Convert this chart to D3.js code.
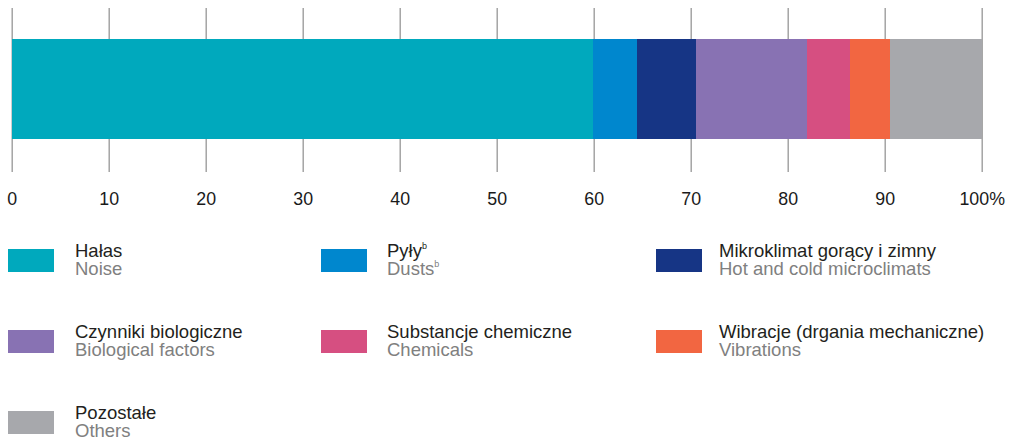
<!DOCTYPE html>
<html><head><meta charset="utf-8">
<script src="https://cdn.jsdelivr.net/npm/d3@7"></script>
<style>
html,body{margin:0;padding:0;background:#fff;}
svg text{font-family:Arial,"Liberation Sans",Helvetica,sans-serif;}
</style></head>
<body>
<svg id="chart" width="1012" height="440"></svg>
<script>
const categoriesPl = ["Hałas","Pyły","Mikroklimat gorący i zimny","Czynniki biologiczne","Substancje chemiczne","Wibracje (drgania mechaniczne)","Pozostałe"];
const categoriesEn = ["Noise","Dusts","Hot and cold microclimats","Biological factors","Chemicals","Vibrations","Others"];
const superscripts = ["","b","","","","",""];
const values = [59.9, 4.6, 6.0, 11.5, 4.4, 4.1, 9.5];
const colors = ["#00a9bd","#0087ce","#163585","#8872b3","#d64f81","#f26641","#a7a8ac"];
const tickValues = [0,10,20,30,40,50,60,70,80,90,100];

const FONT = "Arial, 'Liberation Sans', Helvetica, sans-serif";
const svg = d3.select("#chart");
const x = d3.scaleLinear().domain([0,100]).range([11.7, 981.7]);

// axis with gridlines
const axis = d3.axisBottom(x).tickValues(tickValues).tickSize(164).tickPadding(20)
  .tickFormat(d => d === 100 ? "100%" : String(d));
const ag = svg.append("g").attr("transform","translate(0,8)").call(axis)
  .attr("font-family", FONT);
ag.select(".domain").remove();
ag.selectAll(".tick line").attr("stroke","#9d9d9d").attr("stroke-width",1.4);
ag.selectAll(".tick text").attr("fill","#1a1a1a").attr("font-size","17.8px")
  .attr("font-family", FONT);

// stacked bar
let cum = 0;
const segs = values.map((v,i) => { const s = {start:cum, end:cum+v, color:colors[i]}; cum += v; return s; });
svg.append("g").selectAll("rect").data(segs).join("rect")
  .attr("x", d => x(d.start)).attr("width", d => x(d.end) - x(d.start))
  .attr("y", 39).attr("height", 100)
  .attr("fill", d => d.color).attr("shape-rendering","crispEdges");

// legend
const colSwatchX = [8, 321, 656];
const colTextX = [75, 387, 719];
const rowY = [249, 330, 411];
const lg = svg.append("g").attr("font-family", FONT);
categoriesPl.forEach((name, i) => {
  const c = i % 3, r = Math.floor(i / 3);
  const g = lg.append("g");
  g.append("rect").attr("x", colSwatchX[c]).attr("y", rowY[r]).attr("width", 46).attr("height", 23)
    .attr("fill", colors[i]);
  const t1 = g.append("text").attr("x", colTextX[c]).attr("y", rowY[r] + 7.5)
    .attr("fill", "#231f20").attr("font-size", "18.5px").text(name);
  if (superscripts[i]) t1.append("tspan").attr("dy", -8).attr("font-size", "9px").text(superscripts[i]);
  const t2 = g.append("text").attr("x", colTextX[c]).attr("y", rowY[r] + 26)
    .attr("fill", "#808080").attr("font-size", "18.5px").text(categoriesEn[i]);
  if (superscripts[i]) t2.append("tspan").attr("dy", -8).attr("font-size", "9px").text(superscripts[i]);
});
</script>
</body></html>
